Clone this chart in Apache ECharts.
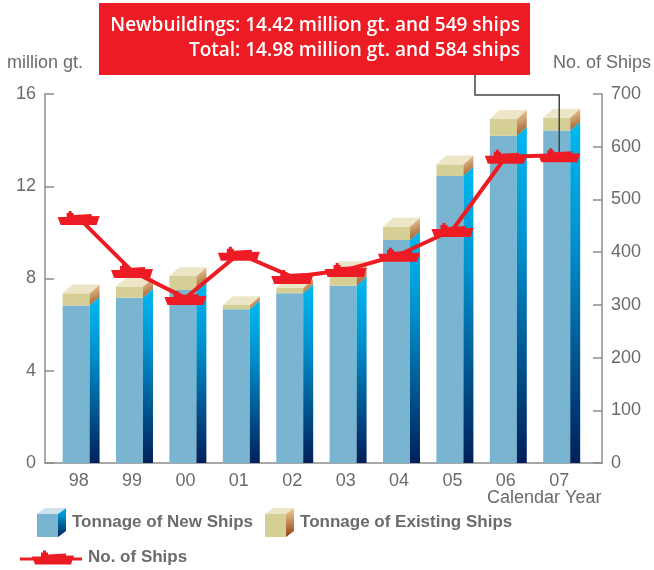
<!DOCTYPE html>
<html>
<head>
<meta charset="utf-8">
<script src="https://cdn.jsdelivr.net/npm/echarts@6/dist/echarts.min.js"></script>
<style>html,body{margin:0;padding:0;background:#fff}#c{width:654px;height:570px}</style>
</head>
<body>
<div id="c"></div>
<script>
// ---- data ----
const years = ['98', '99', '00', '01', '02', '03', '04', '05', '06', '07'];
const newTonnage = [6.83, 7.17, 7.50, 6.67, 7.36, 7.69, 9.67, 12.45, 14.19, 14.42];
const totalTonnage = [7.36, 7.65, 8.11, 6.85, 7.60, 8.37, 10.25, 12.95, 14.92, 14.98];
const ships = [465, 364, 313, 397, 353, 366, 395, 442, 581, 584];
const leftTicks = [0, 4, 8, 12, 16];
const rightTicks = [0, 100, 200, 300, 400, 500, 600, 700];
const noteLines = ['Newbuildings: 14.42 million gt. and 549 ships', 'Total: 14.98 million gt. and 584 ships'];

const G = echarts.graphic;
const GRAY = '#6b6b6b';
const AXIS = '#8c8c8c';
const RED = '#ed1c24';

const shipPath = 'path://M0,6 L42,5 L39,14 L3,14 Z M9,6 L9,2 L11,2 L11,0 L14,0 L14,2 L16,2 L16,6 Z M16,6 L16,4 L34,3 L34,6 Z';
const shipLegend = 'path://M0,7 L62,7 L62,10 L0,10 Z M12,6 L54,5 L51,14 L15,14 Z M21,6 L21,2 L23,2 L23,0 L26,0 L26,2 L28,2 L28,6 Z M28,6 L28,4 L46,3 L46,6 Z';

function cubeSvg(front, top, s1, s2) {
  const svg = '<svg xmlns="http://www.w3.org/2000/svg" width="29" height="29" viewBox="0 0 29 29">' +
    '<defs><linearGradient id="g" x1="0" y1="0" x2="0" y2="1"><stop offset="0" stop-color="' + s1 + '"/><stop offset="1" stop-color="' + s2 + '"/></linearGradient></defs>' +
    '<rect x="0" y="6" width="21" height="23" fill="' + front + '"/>' +
    '<polygon points="0,6 8,0 29,0 21,6" fill="' + top + '"/>' +
    '<polygon points="21,6 29,0 29,23 21,29" fill="url(#g)"/></svg>';
  return 'image://data:image/svg+xml;charset=utf-8,' + encodeURIComponent(svg);
}
const cubeBlue = cubeSvg('#79b4d0', '#cfe1ea', '#00b9f0', '#00205a');
const cubeBeige = cubeSvg('#d6cf95', '#ece6c6', '#f0cf9a', '#8e3f12');

function geom(api, i) {
  const bw = api.size([1, 0])[0];
  const c = api.coord([i, 0])[0];
  return { fl: c - 0.30 * bw, fr: c + 0.205 * bw, dx: 0.187 * bw, dy: 0.165 * bw };
}

function renderNew(params, api) {
  const i = api.value(0), n = api.value(1);
  const y0 = api.coord([i, 0])[1], yN = api.coord([i, n])[1];
  const g = geom(api, i);
  return {
    type: 'group',
    children: [
      { type: 'rect', shape: { x: g.fl, y: yN, width: g.fr - g.fl, height: y0 - yN }, style: { fill: '#79b4d0' } },
      { type: 'polygon', shape: { points: [[g.fr, yN], [g.fr + g.dx, yN - g.dy], [g.fr + g.dx, y0], [g.fr, y0]] },
        style: { fill: new G.LinearGradient(0, 0, 0, 1, [{ offset: 0, color: '#00b9f0' }, { offset: 0.35, color: '#0090cc' }, { offset: 1, color: '#00205a' }]) } }
    ]
  };
}

function renderExisting(params, api) {
  const i = api.value(0), n = api.value(1), t = api.value(2);
  const yN = api.coord([i, n])[1], yT = api.coord([i, t])[1];
  const g = geom(api, i);
  return {
    type: 'group',
    children: [
      { type: 'rect', shape: { x: g.fl, y: yT, width: g.fr - g.fl, height: yN - yT }, style: { fill: '#d6cf95' } },
      { type: 'polygon', shape: { points: [[g.fr, yT], [g.fr + g.dx, yT - g.dy], [g.fr + g.dx, yN - g.dy], [g.fr, yN]] },
        style: { fill: new G.LinearGradient(0, 0, 1, 1, [{ offset: 0, color: '#f2d7a4' }, { offset: 1, color: '#9a5020' }]) } },
      { type: 'polygon', shape: { points: [[g.fl, yT], [g.fl + g.dx, yT - g.dy], [g.fr + g.dx, yT - g.dy], [g.fr, yT]] },
        style: { fill: '#ece6c6' } }
    ]
  };
}

const chart = echarts.init(document.getElementById('c'), null, { renderer: 'canvas' });
const baseFont = '"Liberation Sans", Arial, sans-serif';
const legendText = { color: GRAY, fontSize: 17, fontWeight: 'bold', fontFamily: baseFont, padding: [0, 0, 0, 1] };
const option = {
  animation: false,
  backgroundColor: '#fff',
  grid: { left: 45, right: 50, top: 94, bottom: 107 },
  xAxis: {
    type: 'value', min: -0.63, max: 9.8,
    axisLine: { show: true, onZero: false, lineStyle: { color: AXIS, width: 1.5 } },
    axisTick: { show: false },
    splitLine: { show: false },
    axisLabel: { customValues: years.map((_, i) => i), formatter: v => years[Math.round(v)], color: GRAY, fontSize: 18, fontFamily: baseFont, margin: 9 }
  },
  yAxis: [
    {
      type: 'value', min: 0, max: 16, interval: 4, position: 'left',
      name: 'million gt.', nameLocation: 'end', nameGap: 22,
      nameTextStyle: { color: GRAY, fontSize: 18, fontFamily: baseFont, align: 'center' },
      axisLine: { show: true, onZero: false, lineStyle: { color: AXIS, width: 1.5 } },
      axisTick: { show: true, inside: true, length: 9, lineStyle: { color: AXIS, width: 1.5 } },
      splitLine: { show: false },
      axisLabel: { customValues: leftTicks, color: GRAY, fontSize: 18, fontFamily: baseFont, margin: 9 }
    },
    {
      type: 'value', min: 0, max: 700, interval: 100, position: 'right',
      name: 'No. of Ships', nameLocation: 'end', nameGap: 22,
      nameTextStyle: { color: GRAY, fontSize: 18, fontFamily: baseFont, align: 'center' },
      axisLine: { show: true, onZero: false, lineStyle: { color: AXIS, width: 1.5 } },
      axisTick: { show: true, inside: true, length: 9, lineStyle: { color: AXIS, width: 1.5 } },
      splitLine: { show: false },
      axisLabel: { customValues: rightTicks, color: GRAY, fontSize: 18, fontFamily: baseFont, margin: 9 }
    }
  ],
  title: {
    text: 'Calendar Year', left: 487, top: 489,
    textStyle: { color: GRAY, fontSize: 18, fontWeight: 'normal', fontFamily: baseFont }, padding: 0
  },
  legend: [
    {
      left: 37, top: 508, padding: 0, itemWidth: 29, itemHeight: 29, itemGap: 12, selectedMode: false,
      textStyle: legendText,
      data: [{ name: 'Tonnage of New Ships', icon: cubeBlue }, { name: 'Tonnage of Existing Ships', icon: cubeBeige }]
    },
    {
      left: 20, top: 549, padding: 0, itemWidth: 62, itemHeight: 14, selectedMode: false,
      textStyle: legendText,
      data: [{ name: 'No. of Ships', icon: shipLegend }]
    }
  ],
  series: [
    {
      type: 'custom', name: 'Tonnage of New Ships', xAxisIndex: 0, yAxisIndex: 0,
      itemStyle: { color: '#79b4d0' },
      renderItem: renderNew, encode: { x: 0, y: 1 },
      data: years.map((_, i) => [i, newTonnage[i]])
    },
    {
      type: 'custom', name: 'Tonnage of Existing Ships', xAxisIndex: 0, yAxisIndex: 0,
      itemStyle: { color: '#d6cf95' },
      renderItem: renderExisting, encode: { x: 0, y: [1, 2] },
      data: years.map((_, i) => [i, newTonnage[i], totalTonnage[i]])
    },
    {
      type: 'line', name: 'No. of Ships', xAxisIndex: 0, yAxisIndex: 1, z: 5,
      symbol: shipPath, symbolSize: [42, 14],
      lineStyle: { color: RED, width: 4 },
      itemStyle: { color: RED },
      data: years.map((_, i) => [i, ships[i]])
    }
  ]
};
chart.setOption(option);

const p = chart.convertToPixel({ seriesIndex: 2 }, [9, ships[9]]);
chart.setOption({
  graphic: [
    { type: 'polyline', z: 4, shape: { points: [[475, 75], [475, 95], [p[0], 95], [p[0], p[1]]] }, style: { stroke: '#444', lineWidth: 1.5, fill: null } },
    { type: 'rect', z: 10, shape: { x: 99, y: 3, width: 431, height: 72 }, style: { fill: RED } },
    { type: 'text', z: 11, x: 520, y: 26, style: { text: noteLines[0], fill: '#fff', font: '600 19px "Open Sans", sans-serif', textAlign: 'right', textVerticalAlign: 'middle' } },
    { type: 'text', z: 11, x: 520, y: 51, style: { text: noteLines[1], fill: '#fff', font: '600 19px "Open Sans", sans-serif', textAlign: 'right', textVerticalAlign: 'middle' } }
  ]
});
</script>
</body>
</html>
